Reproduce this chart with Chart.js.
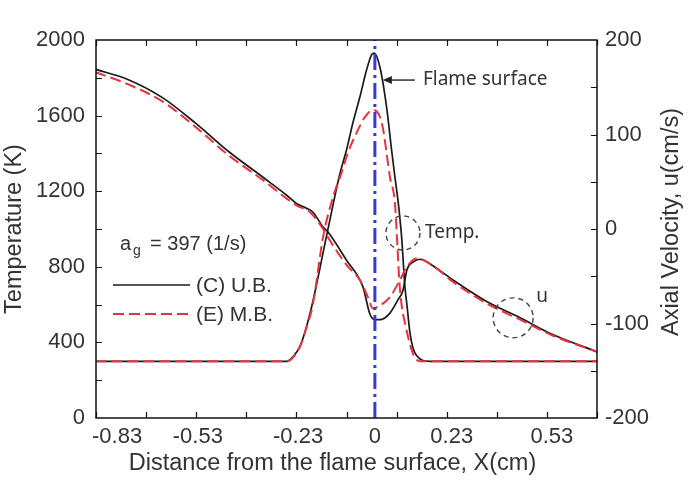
<!DOCTYPE html>
<html>
<head>
<meta charset="utf-8">
<script src="https://cdn.jsdelivr.net/npm/chart.js@4"></script>
<style>
  html, body { margin: 0; padding: 0; background: #fff; }
  #myChart { display: block; }
</style>
</head>
<body>
<canvas id="myChart" width="691" height="485"></canvas>
<script>
// x tick labels (cm)
const xTickLabels = [-0.83, -0.53, -0.23, 0, 0.23, 0.53];

// Temperature, (C) U.B.
const tempUB_x = [-0.837, -0.264, -0.246, -0.225, -0.205, -0.186, -0.141, -0.105, -0.085, -0.066, -0.045, -0.025, -0.01, -0.002, 0.015, 0.035, 0.05, 0.06, 0.07, 0.08, 0.09, 0.096, 0.105, 0.114, 0.126, 0.144, 0.165, 0.666];
const tempUB   = [300, 300, 323, 376, 482, 614, 995, 1291, 1418, 1561, 1698, 1841, 1921, 1931, 1857, 1645, 1418, 1275, 1138, 958, 693, 598, 450, 370, 328, 304, 300, 300];

// Temperature, (E) M.B.
const tempMB_x = [-0.837, -0.264, -0.225, -0.204, -0.186, -0.155, -0.125, -0.099, -0.081, -0.055, -0.03, -0.006, 0.015, 0.025, 0.035, 0.045, 0.06, 0.066, 0.073, 0.08, 0.09, 0.11, 0.125, 0.135, 0.666];
const tempMB   = [300, 300, 376, 482, 598, 959, 1171, 1302, 1402, 1508, 1592, 1630, 1593, 1524, 1402, 1275, 1138, 958, 730, 598, 503, 360, 307, 300, 300];

// Axial velocity, (C) U.B.
const velUB_x = [-0.837, -0.738, -0.636, -0.537, -0.438, -0.336, -0.265, -0.235, -0.205, -0.186, -0.155, -0.141, -0.085, -0.036, -0.015, 0, 0.015, 0.045, 0.069, 0.084, 0.096, 0.114, 0.135, 0.17, 0.234, 0.336, 0.435, 0.534, 0.666];
const velUB   = [169, 158, 139, 112, 82, 55, 36, 27, 22, 18, 2, -3, -33, -61, -90, -96, -96, -89, -75, -65, -43, -35, -32, -38, -54, -77, -94, -112, -130];

// Axial velocity, (E) M.B.
const velMB_x = [-0.837, -0.738, -0.636, -0.537, -0.438, -0.336, -0.235, -0.195, -0.155, -0.135, -0.085, -0.045, -0.021, -0.006, 0.015, 0.045, 0.075, 0.096, 0.126, 0.17, 0.234, 0.336, 0.435, 0.534, 0.666];
const velMB   = [166, 153, 135, 108, 78, 52, 25, 18, 0, -12, -38, -54, -72, -84, -81, -72, -54, -40, -31, -38, -56, -79, -96, -113, -130];

const pts = (xs, ys) => xs.map((x, i) => ({ x: x, y: ys[i] }));

const TXT = '#333';
const FONT = '"Liberation Sans", Arial, sans-serif';

const decor = {
  id: 'decor',
  afterDatasetsDraw(chart) {
    const { ctx, chartArea: a, scales } = chart;
    const sx = scales.x, yT = scales.yT, yU = scales.yU;
    ctx.save();
    // inward tick marks
    ctx.strokeStyle = '#111';
    ctx.lineWidth = 1.2;
    ctx.beginPath();
    for (let v = sx.min; v <= sx.max + 1e-9; v += 0.15) {
      const px = Math.round(sx.getPixelForValue(v)) + 0.5;
      ctx.moveTo(px, a.bottom); ctx.lineTo(px, a.bottom - 6);
      ctx.moveTo(px, a.top); ctx.lineTo(px, a.top + 6);
    }
    for (let v = 200; v < 2000; v += 200) {
      const py = Math.round(yT.getPixelForValue(v)) + 0.5;
      ctx.moveTo(a.left, py); ctx.lineTo(a.left + 6, py);
    }
    for (let v = -150; v < 200; v += 50) {
      const py = Math.round(yU.getPixelForValue(v)) + 0.5;
      ctx.moveTo(a.right, py); ctx.lineTo(a.right - 6, py);
    }
    ctx.stroke();
    ctx.lineWidth = 1.5;
    ctx.strokeRect(a.left, a.top, a.right - a.left, a.bottom - a.top);

    // x tick labels
    ctx.fillStyle = TXT;
    ctx.font = '22px ' + FONT;
    ctx.textBaseline = 'middle';
    xTickLabels.forEach(v => {
      const s = String(v);
      const w = ctx.measureText(s).width;
      let px = sx.getPixelForValue(v) - w / 2;
      if (px < a.left - 4) px = a.left - 4;
      ctx.textAlign = 'left';
      ctx.fillText(s, px, a.bottom + 19);
    });

    // axis titles
    ctx.font = '23.5px ' + FONT;
    ctx.textAlign = 'center';
    ctx.fillText('Distance from the flame surface, X(cm)', (a.left + a.right) / 2 - 14, a.bottom + 46);
    ctx.save();
    ctx.translate(15, (a.top + a.bottom) / 2);
    ctx.rotate(-Math.PI / 2);
    ctx.fillText('Temperature (K)', 0, 0);
    ctx.restore();
    ctx.save();
    ctx.translate(672, (a.top + a.bottom) / 2 - 7);
    ctx.rotate(-Math.PI / 2);
    ctx.fillText('Axial Velocity, u(cm/s)', 0, 0);
    ctx.restore();

    // legend block
    const ds = chart.data.datasets;
    ctx.textAlign = 'left';
    const lx = a.left + 24;
    const ly = yT.getPixelForValue(920);
    ctx.font = '20px ' + FONT;
    ctx.textBaseline = 'alphabetic';
    ctx.fillText('a', lx, ly + 6);
    const aw = ctx.measureText('a').width;
    ctx.font = '14px ' + FONT;
    ctx.fillText('g', lx + aw + 2, ly + 11);
    ctx.font = '20px ' + FONT;
    ctx.fillText('= 397 (1/s)', lx + aw + 19, ly + 6);

    ctx.textBaseline = 'middle';
    ctx.font = '21px ' + FONT;
    [[ds[1], '(C) U.B.', 285], [ds[2], '(E) M.B.', 314]].forEach(([d, t, yy]) => {
      ctx.strokeStyle = d.borderColor;
      ctx.lineWidth = d.borderWidth;
      ctx.setLineDash(d.borderDash || []);
      ctx.beginPath();
      ctx.moveTo(a.left + 17, yy); ctx.lineTo(a.left + 94, yy);
      ctx.stroke();
      ctx.setLineDash([]);
      ctx.fillText(t, a.left + 100, yy + 1);
    });

    // annotations
    ctx.strokeStyle = '#222';
    ctx.fillStyle = '#222';
    ctx.lineWidth = 1.4;
    const ax = sx.getPixelForValue(0.024), ay = yT.getPixelForValue(1788);
    ctx.beginPath();
    ctx.moveTo(ax + 2, ay); ctx.lineTo(ax + 32, ay);
    ctx.stroke();
    ctx.beginPath();
    ctx.moveTo(ax, ay); ctx.lineTo(ax + 9, ay - 4); ctx.lineTo(ax + 9, ay + 4); ctx.closePath();
    ctx.fill();
    ctx.font = '19px "Noto Sans", sans-serif';
    ctx.fillStyle = '#333';
    ctx.textAlign = 'left';
    ctx.fillText('Flame surface', ax + 40, ay);

    ctx.setLineDash([5, 4]);
    ctx.strokeStyle = '#444';
    const tx = sx.getPixelForValue(0.084), ty = yT.getPixelForValue(979);
    ctx.beginPath(); ctx.arc(tx, ty, 17, 0, Math.PI * 2); ctx.stroke();
    const ux = sx.getPixelForValue(0.414), uy = yU.getPixelForValue(-94);
    ctx.beginPath(); ctx.arc(ux, uy, 20, 0, Math.PI * 2); ctx.stroke();
    ctx.setLineDash([]);
    ctx.fillText('Temp.', tx + 22, ty);
    ctx.fillText('u', ux + 23, uy - 21);
    ctx.restore();
  }
};

new Chart('myChart', {
  type: 'line',
  data: {
    datasets: [
      {
        label: 'Flame surface',
        data: [{ x: 0, y: 0 }, { x: 0, y: 2000 }],
        yAxisID: 'yT',
        borderColor: '#3a3acf',
        borderWidth: 3,
        borderDash: [16, 5, 3, 5],
        cubicInterpolationMode: 'default',
        tension: 0,
        order: 0
      },
      {
        label: 'T (C) U.B.',
        data: pts(tempUB_x, tempUB),
        yAxisID: 'yT',
        borderColor: '#1a1a1a',
        borderWidth: 1.7,
        order: 2
      },
      {
        label: 'T (E) M.B.',
        data: pts(tempMB_x, tempMB),
        yAxisID: 'yT',
        borderColor: '#e8333f',
        borderWidth: 2,
        borderDash: [11, 5],
        order: 1
      },
      {
        label: 'u (C) U.B.',
        data: pts(velUB_x, velUB),
        yAxisID: 'yU',
        borderColor: '#1a1a1a',
        borderWidth: 1.7,
        order: 2
      },
      {
        label: 'u (E) M.B.',
        data: pts(velMB_x, velMB),
        yAxisID: 'yU',
        borderColor: '#e8333f',
        borderWidth: 2,
        borderDash: [11, 5],
        order: 1
      }
    ]
  },
  options: {
    responsive: false,
    animation: false,
    devicePixelRatio: 1,
    layout: { padding: { top: 40, left: 0, right: 0, bottom: 0 } },
    elements: {
      point: { radius: 0 },
      line: { cubicInterpolationMode: 'monotone', fill: false }
    },
    plugins: { legend: { display: false }, tooltip: { enabled: false } },
    scales: {
      x: {
        type: 'linear', min: -0.835, max: 0.665,
        ticks: { display: false },
        grid: { display: false, drawTicks: false },
        border: { display: false },
        afterFit(s) { s.height = 67; }
      },
      yT: {
        position: 'left', min: 0, max: 2000,
        ticks: { stepSize: 400, padding: 11, color: TXT, font: { size: 22, family: FONT }, callback: v => String(v) },
        grid: { display: false, drawTicks: false },
        border: { display: false },
        afterFit(s) { s.width = 96; }
      },
      yU: {
        position: 'right', min: -200, max: 200,
        ticks: { stepSize: 100, padding: 8, color: TXT, font: { size: 22, family: FONT }, callback: v => String(v) },
        grid: { display: false, drawTicks: false },
        border: { display: false },
        afterFit(s) { s.width = 94; }
      }
    }
  },
  plugins: [decor]
});
</script>
</body>
</html>
